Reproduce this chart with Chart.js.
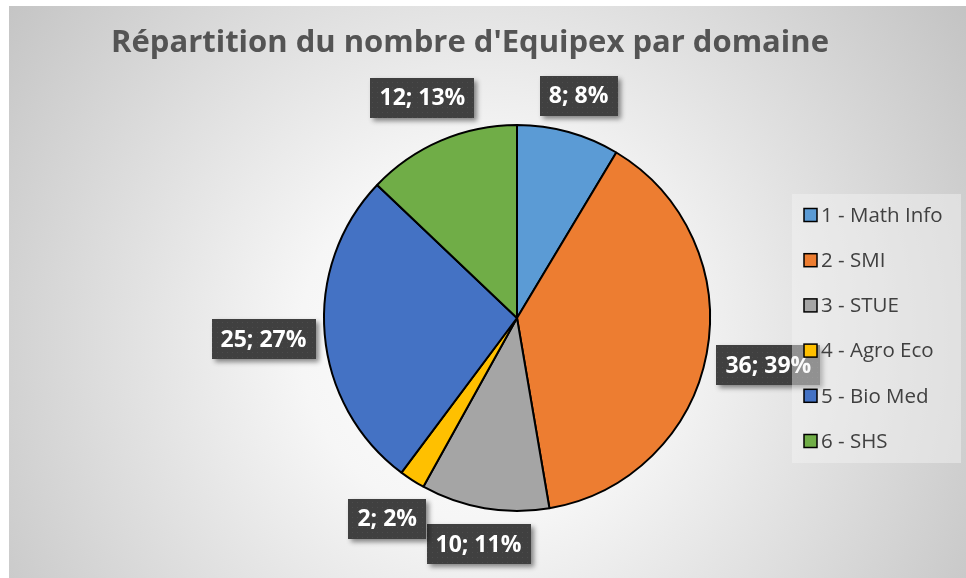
<!DOCTYPE html>
<html>
<head>
<meta charset="utf-8">
<script src="https://cdn.jsdelivr.net/npm/chart.js@4.4.1/dist/chart.umd.min.js"></script>
<style>
  html, body { margin: 0; padding: 0; background: #fff; }
  #wrap { width: 966px; height: 578px; position: relative; }
</style>
</head>
<body>
<div id="wrap"><canvas id="pie_chart" width="966" height="578"></canvas></div>
<script>
// data
var categories = ['1 - Math Info', '2 - SMI', '3 - STUE', '4 - Agro Eco', '5 - Bio Med', '6 - SHS'];
var counts = [8, 36, 10, 2, 25, 12];
var percents = [8, 39, 11, 2, 27, 13];   // as printed in the labels
var colors = ['#5B9BD5', '#ED7D31', '#A5A5A5', '#FFC000', '#4472C4', '#70AD47'];
var chartTitle = "Répartition du nombre d'Equipex par domaine";

// small dotted texture for the data label boxes
function makePattern(ctx) {
    var c = document.createElement('canvas');
    c.width = 5; c.height = 5;
    var p = c.getContext('2d');
    p.fillStyle = '#404040';
    p.fillRect(0, 0, 5, 5);
    p.fillStyle = '#4c4c4c';
    p.fillRect(2, 2, 1, 1);
    return ctx.createPattern(c, 'repeat');
}

var backgroundPlugin = {
    id: 'bg',
    beforeDraw: function(chart) {
        var ctx = chart.ctx;
        ctx.save();
        ctx.fillStyle = '#ffffff';
        ctx.fillRect(0, 0, chart.width, chart.height);
        var g = ctx.createRadialGradient(480, 340, 0, 480, 340, 600);
        g.addColorStop(0, '#ffffff');
        g.addColorStop(0.3, '#f6f6f6');
        g.addColorStop(1, '#c2c2c2');
        ctx.fillStyle = g;
        ctx.fillRect(9, 6, chart.width - 9, chart.height - 6);

        // title
        ctx.font = 'bold 31px "Open Sans"';
        ctx.fillStyle = '#545454';
        ctx.textAlign = 'center';
        ctx.textBaseline = 'middle';
        ctx.fillText(chartTitle, 470, 43);
        ctx.restore();
    }
};

var labelPlugin = {
    id: 'pieLabels',
    afterDatasetsDraw: function(chart) {
        var ctx = chart.ctx;
        var arcs = chart.getDatasetMeta(0).data;
        var pattern = makePattern(ctx);
        ctx.save();
        ctx.font = 'bold 23px "Open Sans"';
        ctx.textAlign = 'center';
        ctx.textBaseline = 'middle';
        arcs.forEach(function(arc, i) {
            var text = counts[i] + '; ' + percents[i] + '%';
            var w = ctx.measureText(text).width + 18;
            var h = 40;
            var mid = (arc.startAngle + arc.endAngle) / 2;
            var dx = Math.cos(mid), dy = Math.sin(mid);
            var dist = arc.outerRadius + 8 + Math.abs(dx) * w / 2 + Math.abs(dy) * h / 2;
            var cx = arc.x + dx * dist;
            var cy = arc.y + dy * dist;

            ctx.save();
            ctx.shadowColor = 'rgba(0,0,0,0.45)';
            ctx.shadowBlur = 5;
            ctx.shadowOffsetX = 3;
            ctx.shadowOffsetY = 3;
            ctx.fillStyle = pattern;
            ctx.fillRect(Math.round(cx - w / 2), Math.round(cy - h / 2), Math.round(w), h);
            ctx.restore();

            ctx.fillStyle = '#ffffff';
            ctx.fillText(text, cx, cy + 1);
        });
        ctx.restore();
    }
};

var legendPlugin = {
    id: 'sideLegend',
    afterDraw: function(chart) {
        var ctx = chart.ctx;
        ctx.save();
        // legend box, a bit see-through (it sits over the 39% label)
        ctx.fillStyle = 'rgba(244,244,244,0.45)';
        ctx.fillRect(792, 194, 169, 269);

        ctx.font = '20.5px "Open Sans"';
        ctx.textBaseline = 'middle';
        ctx.textAlign = 'left';
        categories.forEach(function(name, i) {
            var y = 215 + i * 45.2;
            ctx.fillStyle = colors[i];
            ctx.fillRect(804, y - 6.5, 13, 13);
            ctx.strokeStyle = '#000';
            ctx.lineWidth = 1.5;
            ctx.strokeRect(804, y - 6.5, 13, 13);
            ctx.fillStyle = '#404040';
            ctx.fillText(name, 821, y + 1);
        });
        ctx.restore();
    }
};

var context = document.getElementById('pie_chart').getContext('2d');
var pie_chart = new Chart(context, {
    type: 'pie',
    data: {
        labels: categories,
        datasets: [{
            data: counts,
            backgroundColor: colors,
            borderColor: '#000000',
            borderWidth: 2
        }]
    },
    options: {
        responsive: false,
        animation: false,
        radius: 193,
        layout: {
            padding: { left: 324, right: 256, top: 125, bottom: 67 }
        },
        plugins: {
            legend: { display: false },
            title: { display: false },
            tooltip: { enabled: false }
        }
    },
    plugins: [backgroundPlugin, labelPlugin, legendPlugin]
});
</script>
</body>
</html>
